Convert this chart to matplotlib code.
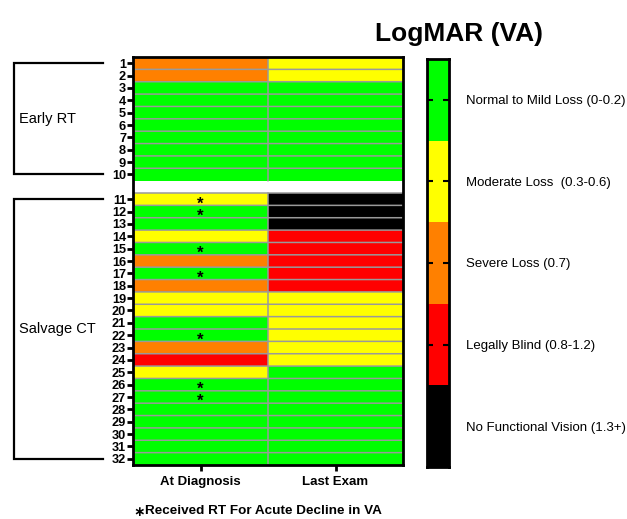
import numpy as np
import matplotlib
matplotlib.use("Agg")
import matplotlib.pyplot as plt
from matplotlib.colors import ListedColormap, BoundaryNorm
from matplotlib.transforms import blended_transform_factory

plt.rcParams['font.family'] = ['Liberation Sans', 'DejaVu Sans']

# ---- data ----
categories = ["Normal to Mild Loss (0-0.2)", "Moderate Loss  (0.3-0.6)", "Severe Loss (0.7)",
              "Legally Blind (0.8-1.2)", "No Functional Vision (1.3+)"]
cat_colors = ["#00FF00", "#FFFF00", "#FF8000", "#FF0000", "#000000"]
columns = ["At Diagnosis", "Last Exam"]
patients = list(range(1, 33))
# codes: 0 normal, 1 moderate, 2 severe, 3 legally blind, 4 no functional vision
at_diagnosis = [2, 2, 0, 0, 0, 0, 0, 0, 0, 0,
                1, 0, 0, 1, 0, 2, 0, 2, 1, 1, 0, 0, 2, 3, 1, 0, 0, 0, 0, 0, 0, 0]
last_exam = [1, 1, 0, 0, 0, 0, 0, 0, 0, 0,
             4, 4, 4, 3, 3, 3, 3, 3, 1, 1, 1, 1, 1, 1, 0, 0, 0, 0, 0, 0, 0, 0]
starred = [11, 12, 15, 17, 22, 26, 27]
groups = [("Early RT", 1, 10), ("Salvage CT", 11, 32)]
title = "LogMAR (VA)"
footnote = "Received RT For Acute Decline in VA"

# row positions: a blank row separates the two groups
def rowpos(p):
    return p - 1 if p <= 10 else p

nrows = 33
gap = 10
M = np.full((nrows, 2), np.nan)
for i, p in enumerate(patients):
    M[rowpos(p), 0] = at_diagnosis[i]
    M[rowpos(p), 1] = last_exam[i]
M = np.ma.masked_invalid(M)

cmap = ListedColormap(cat_colors)
norm = BoundaryNorm(np.arange(-0.5, 5.5, 1), cmap.N)

W, H = 627, 519
fig = plt.figure(figsize=(W / 100, H / 100), dpi=100)
ax = fig.add_axes([133 / W, 1 - 465 / H, 270 / W, 408 / H])
ax.pcolormesh(np.arange(-0.5, 2.5, 1), np.arange(-0.5, nrows + 0.5, 1), M,
              cmap=cmap, norm=norm, edgecolors='none', zorder=1)
# grid lines
bounds = [b for b in np.arange(0.5, nrows - 0.5, 1) if b != gap - 0.5]
for b in bounds:
    ax.axhline(b, color="#9a9a9a", linewidth=1.1, zorder=3, snap=False)
for y0, y1 in [(-0.5, gap - 0.5), (gap + 0.5, nrows - 0.5)]:
    ax.plot([0.5, 0.5], [y0, y1], color="#9a9a9a", linewidth=1.1, zorder=3, snap=False)
ax.set_xlim(-0.5, 1.5)
ax.set_ylim(nrows - 0.5, -0.5)
ax.set_yticks([rowpos(p) for p in patients])
ax.set_yticklabels([str(p) for p in patients], fontsize=9.2, fontweight='bold')
ax.set_xticks([0, 1])
ax.set_xticklabels(columns, fontsize=9.5, fontweight='bold')
ax.tick_params(axis='y', length=4, width=2, pad=1)
ax.tick_params(axis='x', length=4, width=2, pad=4)
for s in ax.spines.values():
    s.set_linewidth(2)
    s.set_zorder(5)

for p in starred:
    ax.text(0, rowpos(p) + 0.38, "*", ha='center', va='center', fontsize=12, fontweight='bold',
            zorder=4)

# group brackets
tr = blended_transform_factory(fig.transFigure, ax.transData)
for name, a, b in groups:
    y0, y1 = rowpos(a), rowpos(b)
    x0, x1 = 14 / W, 103 / W
    ax.plot([x1, x0, x0, x1], [y0, y0, y1, y1], color='black', lw=1.6,
            transform=tr, clip_on=False, solid_joinstyle='miter')
    ax.text(19 / W, (y0 + y1) / 2, name, transform=tr, ha='left', va='center', fontsize=10.5)

# colour legend bar
cax = fig.add_axes([427 / W, 1 - 467 / H, 22 / W, 408 / H])
cax.pcolormesh([0, 1], np.arange(-0.5, 5.5, 1), np.arange(5).reshape(-1, 1),
               cmap=cmap, norm=norm)
cax.set_xlim(0, 1)
cax.set_ylim(4.5, -0.5)
cax.set_xticks([])
cax.set_yticks(range(5))
cax.yaxis.tick_right()
cax.set_yticklabels(categories, fontsize=9.5)
cax.tick_params(axis='y', which='both', direction='in', left=True, right=True,
                length=4, width=1.5, pad=12)
for s in cax.spines.values():
    s.set_linewidth(2)

fig.text(459 / W, 1 - 34 / H, title, ha='center', va='center', fontsize=19, fontweight='bold')
fig.text(139 / W, 1 - 512 / H, "\u2217", ha='center', va='center', fontsize=10, fontweight='bold')
fig.text(145 / W, 1 - 511 / H, footnote, ha='left', va='center', fontsize=9.7, fontweight='bold')

fig.savefig("out.png", dpi=100)
